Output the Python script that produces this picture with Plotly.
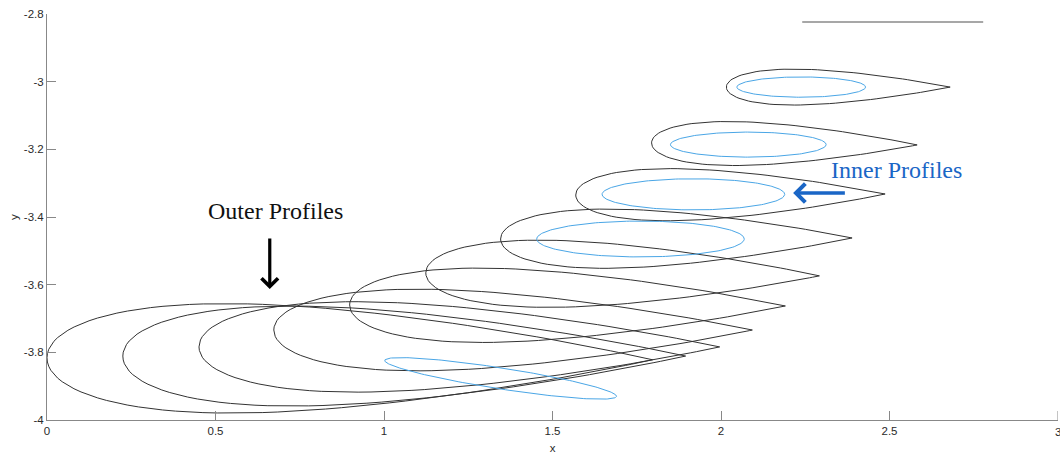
import numpy as np
import plotly.graph_objects as go

# ---------------- data ----------------
# Outer profiles: leading edge, trailing edge, relative thickness
outer_le_x = [0.000, 0.225, 0.451, 0.673, 0.898, 1.124, 1.346, 1.569, 1.794, 2.016]
outer_le_y = [-3.816, -3.811, -3.784, -3.734, -3.660, -3.565, -3.465, -3.335, -3.181, -3.016]
outer_te_x = [1.797, 1.895, 1.996, 2.093, 2.191, 2.292, 2.389, 2.487, 2.582, 2.680]
outer_te_y = [-3.822, -3.811, -3.784, -3.734, -3.663, -3.574, -3.462, -3.332, -3.187, -3.016]
outer_thick = [0.180, 0.177, 0.173, 0.170, 0.170, 0.170, 0.168, 0.168, 0.165, 0.160]

# Inner profiles: ellipse centre, semi-axes, rotation (deg)
inner_cx = [2.238, 2.081, 1.918, 1.761, 1.346]
inner_cy = [-3.016, -3.186, -3.333, -3.465, -3.877]
inner_a = [0.191, 0.231, 0.271, 0.308, 0.348]
inner_b = [0.030, 0.037, 0.046, 0.053, 0.031]
inner_rot = [0.0, 0.0, 0.0, 0.0, -8.8]

# short reference line in the upper right
ref_line_x = [2.241, 2.778]
ref_line_y = [-2.824, -2.824]

x_ticks = [0, 0.5, 1, 1.5, 2, 2.5, 3]
x_tick_labels = ["0", "0.5", "1", "1.5", "2", "2.5", "3"]
y_ticks = [-4, -3.8, -3.6, -3.4, -3.2, -3, -2.8]
y_tick_labels = ["-4", "-3.8", "-3.6", "-3.4", "-3.2", "-3", "-2.8"]

# ---------------- shape helpers ----------------
def airfoil(lx, ly, tx, ty, t, n=60):
    beta = np.linspace(0, np.pi, n)
    xc = 0.5 * (1 - np.cos(beta))
    yt = 5 * t * (0.2969 * np.sqrt(xc) - 0.1260 * xc - 0.3516 * xc**2
                  + 0.2843 * xc**3 - 0.1036 * xc**4)
    dx, dy = tx - lx, ty - ly
    c = np.hypot(dx, dy)
    ux, uy = dx / c, dy / c
    nx, ny = -uy, ux
    xs = np.concatenate([xc[::-1], xc[1:]])
    ys = np.concatenate([yt[::-1], -yt[1:]])
    px = lx + c * (xs * ux + ys * nx)
    py = ly + c * (xs * uy + ys * ny)
    return px, py


def ellipse(cx, cy, a, b, rot, n=200):
    th = np.linspace(0, 2 * np.pi, n)
    r = np.deg2rad(rot)
    ex = a * np.cos(th)
    ey = b * np.sin(th)
    return cx + ex * np.cos(r) - ey * np.sin(r), cy + ex * np.sin(r) + ey * np.cos(r)


fig = go.Figure()

for i in range(len(outer_le_x)):
    px, py = airfoil(outer_le_x[i], outer_le_y[i], outer_te_x[i], outer_te_y[i], outer_thick[i])
    fig.add_trace(go.Scatter(x=px, y=py, mode="lines",
                             line=dict(color="#333333", width=1), hoverinfo="skip"))

for i in range(len(inner_cx)):
    ex, ey = ellipse(inner_cx[i], inner_cy[i], inner_a[i], inner_b[i], inner_rot[i])
    fig.add_trace(go.Scatter(x=ex, y=ey, mode="lines",
                             line=dict(color="#4aa6e6", width=1), hoverinfo="skip"))

fig.add_trace(go.Scatter(x=ref_line_x, y=ref_line_y, mode="lines",
                         line=dict(color="#8a8a8a", width=1.5), hoverinfo="skip"))

# ---------------- annotations ----------------
fig.add_annotation(x=0.679, y=-3.382, xref="x", yref="y", text="Outer Profiles",
                   showarrow=False, font=dict(family="Liberation Serif", size=24, color="#111111"))
fig.add_annotation(x=2.52, y=-3.262, xref="x", yref="y", text="Inner Profiles",
                   showarrow=False, font=dict(family="Liberation Serif", size=24, color="#1a66c6"))
fig.add_annotation(x=0.661, y=-3.613, ax=0.661, ay=-3.459, xref="x", yref="y",
                   axref="x", ayref="y", text="", showarrow=True,
                   arrowhead=4, arrowsize=1, arrowwidth=3.2, arrowcolor="#000000")
fig.add_annotation(x=2.214, y=-3.329, ax=2.372, ay=-3.329, xref="x", yref="y",
                   axref="x", ayref="y", text="", showarrow=True,
                   arrowhead=4, arrowsize=1, arrowwidth=3.6, arrowcolor="#1a66c6")

axis_font = dict(family="Liberation Sans, Arial", size=11.5, color="#2a2a2a")

# last x tick label sits on the page edge; plotly drops it, so place it explicitly
fig.add_annotation(x=x_ticks[-1], y=0, xref="x", yref="paper", yshift=-12,
                   text=x_tick_labels[-1], showarrow=False, font=axis_font,
                   xanchor="center", yanchor="middle")

fig.update_xaxes(range=[0, 3], tickvals=x_ticks[:-1], ticktext=x_tick_labels[:-1],
                 showline=True, linecolor="#888888", linewidth=1,
                 ticks="inside", ticklen=9, tickcolor="#888888", tickwidth=1,
                 showgrid=False, zeroline=False, tickfont=axis_font,
                 title=dict(text="x", font=axis_font, standoff=8))
fig.update_yaxes(range=[-4, -2.8], tickvals=y_ticks, ticktext=y_tick_labels,
                 showline=True, linecolor="#888888", linewidth=1,
                 ticks="inside", ticklen=9, tickcolor="#888888", tickwidth=1,
                 showgrid=False, zeroline=False, tickfont=axis_font,
                 title=dict(text="y", font=axis_font, standoff=2))
fig.update_layout(width=1060, height=455, showlegend=False,
                  margin=dict(l=47, r=2, t=14, b=35),
                  plot_bgcolor="white", paper_bgcolor="white")

# x=3 tick mark (label handled by annotation above)
fig.add_shape(type="line", xref="x", yref="paper", x0=3, x1=3, y0=0, y1=9 / 406,
              line=dict(color="#888888", width=1))

fig.write_html("out.html")
